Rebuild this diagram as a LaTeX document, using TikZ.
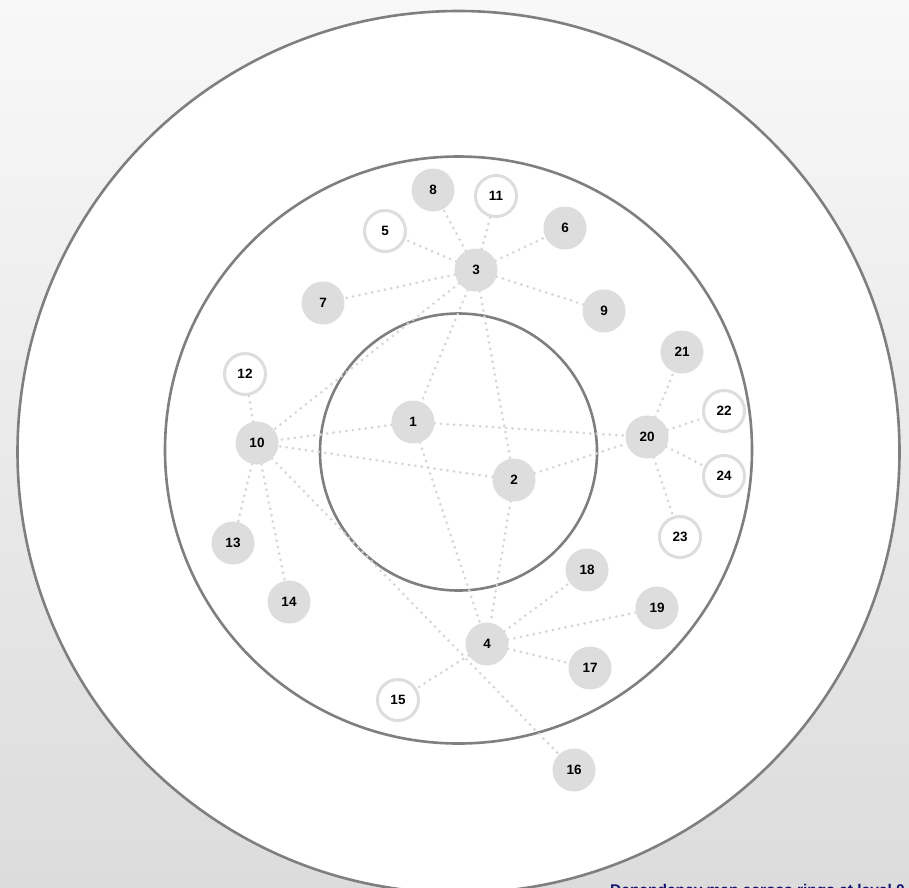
\documentclass[tikz,border=0pt]{standalone}
\usepackage{fontspec}
\setmainfont{Liberation Sans}
\definecolor{bgtop}{HTML}{F8F8F8}
\definecolor{bgbot}{HTML}{DCDCDC}
\definecolor{ringcol}{HTML}{7F7F7F}
\definecolor{nodefill}{HTML}{DDDDDD}
\definecolor{edgecol}{HTML}{D6D6D6}
\definecolor{navytxt}{HTML}{14146E}
\pgfdeclarelayer{ringlayer}
\pgfdeclarelayer{edgelayer}
\pgfsetlayers{ringlayer,edgelayer,main}
\tikzset{
  ring/.style={draw=ringcol, line width=2.6pt},
  full/.style={circle, fill=nodefill, draw=none, minimum size=43pt, inner sep=0pt,
    font=\fontsize{13.5}{15}\selectfont\bfseries},
  hollow/.style={circle, fill=white, draw=nodefill, line width=3pt, minimum size=41pt, inner sep=0pt,
    font=\fontsize{13.5}{15}\selectfont\bfseries},
  link/.style={draw=edgecol, line width=3pt, line cap=round, dash pattern=on 0pt off 6.5pt}
}
\begin{document}
\begin{tikzpicture}[x=1pt,y=-1pt]
\useasboundingbox (0,0) rectangle (909,887);
\clip (0,0) rectangle (909,887);
\begin{pgfonlayer}{ringlayer}
\shade[top color=bgtop, bottom color=bgbot] (0,0) rectangle (909,887);
\draw[ring, fill=white] (458.5,452) circle (441);
\draw[ring] (458.5,450) circle (293.5);
\draw[ring] (458.5,452) circle (138.5);
\node[anchor=base west, inner sep=0pt, text=navytxt, font=\fontsize{15.5}{17}\selectfont\bfseries] (caption) at (610,895) {Dependency map across rings at level 0};
\end{pgfonlayer}
% nodes
\node[full] (n1) at (413,422) {1};
\node[full] (n2) at (514,480) {2};
\node[full] (n3) at (476,270) {3};
\node[full] (n4) at (487,644) {4};
\node[hollow] (n5) at (385,231) {5};
\node[full] (n6) at (565,228) {6};
\node[full] (n7) at (323,303) {7};
\node[full] (n8) at (433,190) {8};
\node[full] (n9) at (604,311) {9};
\node[full] (n10) at (257,443) {10};
\node[hollow] (n11) at (496,196) {11};
\node[hollow] (n12) at (245,374) {12};
\node[full] (n13) at (233,543) {13};
\node[full] (n14) at (289,602) {14};
\node[hollow] (n15) at (398,700) {15};
\node[full] (n16) at (574,770) {16};
\node[full] (n17) at (590,668) {17};
\node[full] (n18) at (587,570) {18};
\node[full] (n19) at (657,608) {19};
\node[full] (n20) at (647,437) {20};
\node[full] (n21) at (682,352) {21};
\node[hollow] (n22) at (724,411) {22};
\node[hollow] (n23) at (680,537) {23};
\node[hollow] (n24) at (724,476) {24};
\begin{pgfonlayer}{edgelayer}
\foreach \a/\b in {n3/n8,n3/n11,n3/n5,n3/n6,n3/n9,n3/n7,n3/n1,n3/n2,n3/n10,
  n1/n10,n1/n20,n1/n4,n2/n10,n2/n20,n2/n4,
  n10/n12,n10/n13,n10/n14,n10/n16,
  n4/n18,n4/n19,n4/n17,n4/n15,
  n20/n21,n20/n22,n20/n24,n20/n23}
  \draw[link] (\a) -- (\b);
\end{pgfonlayer}
\end{tikzpicture}
\end{document}
